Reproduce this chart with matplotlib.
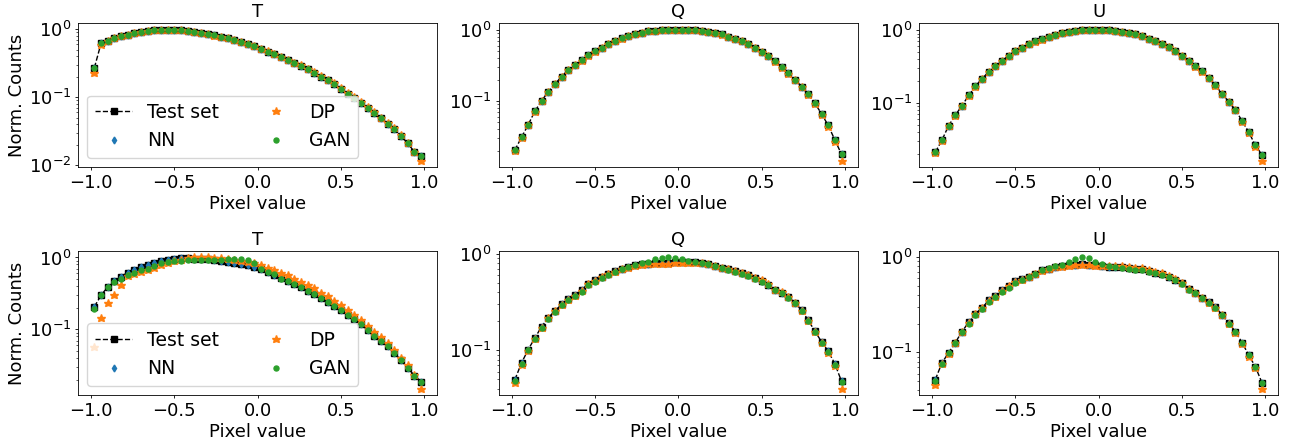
import numpy as np
import matplotlib
matplotlib.use('Agg')
import matplotlib.pyplot as plt

# bin centres of the pixel-value histograms (50 bins on [-1, 1])
pixel_bins = np.round(np.arange(-0.98, 1.0, 0.04), 2)

# ---- top row ----
test_T_top = [0.272, 0.62, 0.68, 0.745, 0.80, 0.835, 0.88, 0.92, 0.955, 0.98,
              0.99, 0.98, 0.98, 0.97, 0.945, 0.925, 0.89, 0.86, 0.815, 0.78,
              0.74, 0.705, 0.66, 0.615, 0.56, 0.51, 0.47, 0.43, 0.39, 0.35,
              0.32, 0.29, 0.26, 0.23, 0.20, 0.177, 0.155, 0.134, 0.113, 0.097,
              0.083, 0.069, 0.058, 0.049, 0.041, 0.034, 0.027, 0.021, 0.0158, 0.0139]
dp_T_top = [0.224, 0.58, 0.67, 0.74, 0.79, 0.83, 0.875, 0.915, 0.95, 0.975,
            0.985, 0.98, 0.975, 0.965, 0.94, 0.92, 0.885, 0.855, 0.81, 0.775,
            0.735, 0.70, 0.655, 0.61, 0.56, 0.515, 0.475, 0.435, 0.395, 0.355,
            0.325, 0.295, 0.265, 0.235, 0.205, 0.182, 0.16, 0.138, 0.117, 0.10,
            0.086, 0.072, 0.06, 0.05, 0.042, 0.035, 0.0275, 0.021, 0.0155, 0.0117]

test_Q_top = [0.0204, 0.031, 0.0464, 0.072, 0.100, 0.136, 0.173, 0.220, 0.274, 0.323,
              0.373, 0.44, 0.50, 0.565, 0.631, 0.704, 0.76, 0.812, 0.867, 0.916,
              0.957, 0.978, 1.0, 1.0, 1.01, 1.0, 1.01, 0.99, 0.978, 0.947,
              0.916, 0.867, 0.803, 0.744, 0.696, 0.631, 0.56, 0.49, 0.43, 0.36,
              0.30, 0.246, 0.20, 0.16, 0.125, 0.093, 0.066, 0.0454, 0.0283, 0.0178]
dp_Q_top = [0.0200, 0.030, 0.0455, 0.071, 0.099, 0.134, 0.171, 0.218, 0.27, 0.32,
            0.37, 0.435, 0.495, 0.56, 0.625, 0.70, 0.755, 0.81, 0.865, 0.91,
            0.95, 0.975, 0.995, 1.0, 1.0, 1.0, 1.0, 0.985, 0.97, 0.94,
            0.91, 0.86, 0.80, 0.74, 0.69, 0.625, 0.555, 0.485, 0.425, 0.355,
            0.295, 0.242, 0.196, 0.157, 0.122, 0.09, 0.064, 0.043, 0.027, 0.0145]

test_U_top = [0.0211, 0.031, 0.049, 0.068, 0.092, 0.127, 0.169, 0.216, 0.267, 0.321,
              0.378, 0.448, 0.52, 0.578, 0.65, 0.70, 0.75, 0.815, 0.86, 0.908,
              0.948, 0.98, 1.0, 1.02, 1.02, 1.02, 1.01, 0.99, 0.958, 0.928,
              0.89, 0.84, 0.765, 0.72, 0.65, 0.585, 0.52, 0.448, 0.377, 0.321,
              0.273, 0.223, 0.175, 0.134, 0.104, 0.0806, 0.0567, 0.0398, 0.0262, 0.0194]
dp_U_top = [0.0208, 0.0305, 0.048, 0.067, 0.091, 0.125, 0.167, 0.213, 0.264, 0.318,
            0.375, 0.444, 0.515, 0.573, 0.645, 0.695, 0.745, 0.81, 0.855, 0.903,
            0.943, 0.975, 0.995, 1.015, 1.015, 1.015, 1.005, 0.985, 0.953, 0.923,
            0.885, 0.835, 0.76, 0.715, 0.645, 0.58, 0.515, 0.443, 0.372, 0.317,
            0.27, 0.22, 0.172, 0.132, 0.102, 0.079, 0.0555, 0.0385, 0.0252, 0.0161]

# NN and GAN lie on top of the test set in the upper row
nn_T_top, gan_T_top = test_T_top, test_T_top
nn_Q_top, gan_Q_top = test_Q_top, test_Q_top
nn_U_top, gan_U_top = test_U_top, test_U_top

# ---- bottom row ----
test_T_bot = [0.207, 0.298, 0.39, 0.472, 0.543, 0.618, 0.673, 0.733, 0.782, 0.834,
              0.88, 0.918, 0.948, 0.968, 0.968, 0.958, 0.948, 0.938, 0.918, 0.899,
              0.87, 0.842, 0.816, 0.782, 0.741, 0.688, 0.638, 0.573, 0.52, 0.472,
              0.424, 0.385, 0.346, 0.308, 0.274, 0.241, 0.21, 0.184, 0.158, 0.138,
              0.117, 0.098, 0.082, 0.069, 0.058, 0.047, 0.037, 0.029, 0.0228, 0.0186]
dp_T_bot = [0.0567, 0.146, 0.236, 0.298, 0.41, 0.555, 0.598, 0.638, 0.673, 0.725,
            0.782, 0.825, 0.88, 0.928, 0.968, 1.0, 1.0, 1.0, 0.968, 0.968,
            0.948, 0.928, 0.899, 0.87, 0.825, 0.782, 0.725, 0.68, 0.618, 0.567,
            0.51, 0.458, 0.415, 0.372, 0.325, 0.292, 0.25, 0.216, 0.186, 0.158,
            0.134, 0.113, 0.093, 0.079, 0.065, 0.051, 0.04, 0.0315, 0.0232, 0.015]
gan_T_bot = [0.19, 0.298, 0.39, 0.46, 0.5, 0.573, 0.618, 0.673, 0.70, 0.765,
             0.825, 0.87, 0.88, 0.9, 0.908, 0.908, 0.918, 0.928, 0.928, 0.918,
             0.938, 0.938, 0.948, 0.918, 0.825, 0.70, 0.63, 0.598, 0.51, 0.472,
             0.424, 0.385, 0.346, 0.308, 0.274, 0.241, 0.21, 0.184, 0.158, 0.138,
             0.117, 0.098, 0.082, 0.069, 0.058, 0.047, 0.037, 0.029, 0.0228, 0.0186]

test_Q_bot = [0.0495, 0.0738, 0.1016, 0.134, 0.175, 0.217, 0.255, 0.299, 0.337, 0.371,
              0.418, 0.49, 0.532, 0.58, 0.624, 0.665, 0.703, 0.732, 0.762, 0.78,
              0.793, 0.806, 0.812, 0.812, 0.819, 0.825, 0.825, 0.819, 0.806, 0.78,
              0.75, 0.715, 0.692, 0.66, 0.629, 0.6, 0.558, 0.523, 0.48, 0.422,
              0.396, 0.356, 0.311, 0.261, 0.204, 0.158, 0.122, 0.0977, 0.072, 0.0475]
dp_Q_bot = [0.0457, 0.071, 0.099, 0.132, 0.172, 0.215, 0.253, 0.297, 0.335, 0.368,
            0.415, 0.485, 0.525, 0.572, 0.615, 0.655, 0.69, 0.72, 0.745, 0.765,
            0.775, 0.785, 0.79, 0.79, 0.795, 0.8, 0.805, 0.805, 0.8, 0.775,
            0.748, 0.715, 0.695, 0.665, 0.635, 0.607, 0.565, 0.53, 0.485, 0.425,
            0.397, 0.355, 0.308, 0.258, 0.2, 0.155, 0.119, 0.094, 0.069, 0.040]
gan_Q_bot = [0.0485, 0.072, 0.1, 0.132, 0.17, 0.21, 0.25, 0.293, 0.33, 0.362,
             0.405, 0.47, 0.515, 0.565, 0.61, 0.655, 0.7, 0.735, 0.77, 0.8,
             0.832, 0.873, 0.909, 0.916, 0.90, 0.88, 0.846, 0.82, 0.8, 0.775,
             0.745, 0.71, 0.685, 0.652, 0.62, 0.59, 0.55, 0.515, 0.475, 0.42,
             0.39, 0.352, 0.307, 0.258, 0.2, 0.155, 0.12, 0.095, 0.07, 0.0465]

test_U_bot = [0.0519, 0.0778, 0.0991, 0.1265, 0.165, 0.206, 0.252, 0.292, 0.349, 0.387,
              0.444, 0.494, 0.553, 0.581, 0.62, 0.667, 0.723, 0.753, 0.791, 0.803,
              0.823, 0.83, 0.837, 0.83, 0.817, 0.803, 0.791, 0.784, 0.784, 0.765,
              0.753, 0.741, 0.711, 0.683, 0.656, 0.62, 0.571, 0.527, 0.455, 0.42,
              0.372, 0.335, 0.296, 0.248, 0.202, 0.165, 0.1265, 0.0937, 0.0706, 0.0478]
dp_U_bot = [0.0452, 0.075, 0.097, 0.124, 0.162, 0.203, 0.25, 0.29, 0.345, 0.383,
            0.44, 0.49, 0.545, 0.575, 0.615, 0.66, 0.715, 0.745, 0.78, 0.79,
            0.81, 0.815, 0.82, 0.815, 0.805, 0.8, 0.795, 0.795, 0.8, 0.785,
            0.77, 0.76, 0.73, 0.7, 0.67, 0.63, 0.58, 0.535, 0.46, 0.42,
            0.37, 0.332, 0.292, 0.244, 0.198, 0.161, 0.122, 0.09, 0.068, 0.0417]
gan_U_bot = [0.05, 0.076, 0.098, 0.124, 0.162, 0.2, 0.245, 0.283, 0.335, 0.375,
             0.425, 0.475, 0.53, 0.565, 0.61, 0.66, 0.72, 0.755, 0.8, 0.83,
             0.885, 0.945, 0.984, 0.968, 0.893, 0.837, 0.803, 0.78, 0.77, 0.75,
             0.735, 0.72, 0.695, 0.67, 0.645, 0.612, 0.565, 0.52, 0.45, 0.415,
             0.368, 0.332, 0.293, 0.245, 0.2, 0.163, 0.125, 0.093, 0.07, 0.0475]

nn_T_bot, nn_Q_bot, nn_U_bot = test_T_bot, test_Q_bot, test_U_bot

stokes = ['T', 'Q', 'U']
rows = [
    [(test_T_top, nn_T_top, dp_T_top, gan_T_top),
     (test_Q_top, nn_Q_top, dp_Q_top, gan_Q_top),
     (test_U_top, nn_U_top, dp_U_top, gan_U_top)],
    [(test_T_bot, nn_T_bot, dp_T_bot, gan_T_bot),
     (test_Q_bot, nn_Q_bot, dp_Q_bot, gan_Q_bot),
     (test_U_bot, nn_U_bot, dp_U_bot, gan_U_bot)],
]

# original looks like a 72 dpi render -> scale point sizes by 0.72
plt.rcParams['font.size'] = 13
plt.rcParams['axes.linewidth'] = 0.6
plt.rcParams['axes.labelpad'] = 2.0
plt.rcParams['axes.titlepad'] = 4.3
for ax_ in ('xtick', 'ytick'):
    plt.rcParams[ax_ + '.major.width'] = 0.6
    plt.rcParams[ax_ + '.minor.width'] = 0.45
    plt.rcParams[ax_ + '.major.size'] = 2.5
    plt.rcParams[ax_ + '.minor.size'] = 1.5
    plt.rcParams[ax_ + '.major.pad'] = 2.5
    plt.rcParams[ax_ + '.minor.pad'] = 2.5

fig, axes = plt.subplots(2, 3, figsize=(12.9, 4.43), dpi=100)
fig.subplots_adjust(left=0.0605, right=0.991, top=0.948, bottom=0.108,
                    wspace=0.17, hspace=0.58)

for r in range(2):
    for c in range(3):
        ax = axes[r, c]
        test, nn, dp, gan = rows[r][c]
        ax.plot(pixel_bins, test, '--s', color='k', lw=1, ms=4.5, label='Test set')
        ax.plot(pixel_bins, nn, 'd', color='C0', ms=3.5, label='NN')
        ax.plot(pixel_bins, dp, '*', color='C1', ms=6.2, label='DP')
        ax.plot(pixel_bins, gan, 'o', color='C2', ms=3.6, label='GAN')
        ax.set_yscale('log')
        ax.set_title(stokes[c], fontsize=13)
        ax.set_xlabel('Pixel value')
        ax.set_xticks([-1.0, -0.5, 0.0, 0.5, 1.0])
        if c == 0:
            ax.set_ylabel('Norm. Counts')
            ax.legend(ncol=2, loc='lower left', fontsize=13.5)

plt.savefig('out.png', dpi=100)
